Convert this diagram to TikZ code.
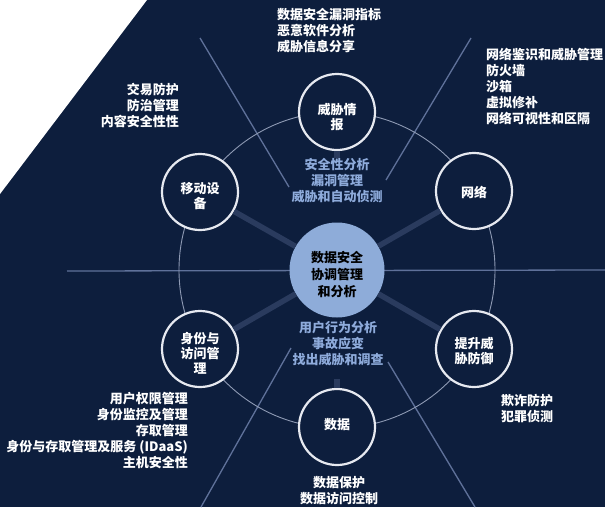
\documentclass[tikz,border=0pt]{standalone}
\usepackage{fontspec}
\setmainfont{Noto Sans CJK SC}
\definecolor{bg}{HTML}{0D1E3D}
\definecolor{ringc}{HTML}{E6E9F0}
\definecolor{orbit}{HTML}{8E9AB4}
\definecolor{ray}{HTML}{5F719A}
\definecolor{spokec}{HTML}{2A3B5E}
\definecolor{hub}{HTML}{8EACD9}
\definecolor{soft}{HTML}{8EABDB}
\tikzset{
  txt/.style={font=\bfseries\fontsize{13}{16}\selectfont, text=white, inner sep=0pt},
  softtxt/.style={txt, text=soft, align=center},
  node circ/.style={circle, draw=ringc, line width=2.2pt, fill=bg, minimum size=76pt, inner sep=0pt},
  circlabel/.style={inner sep=0pt, align=center, text=white, font=\bfseries\fontsize{13}{15}\selectfont},
  hubcirc/.style={circle, fill=hub, minimum size=95pt, inner sep=0pt},
  hublabel/.style={inner sep=0pt, align=center, text=black, font=\bfseries\fontsize{13}{17}\selectfont},
  orbitline/.style={draw=orbit, line width=0.9pt},
  rayline/.style={draw=ray, line width=1.3pt},
  spoke/.style={draw=spokec, line width=5.5pt},
}
\begin{document}
\begin{tikzpicture}[x=1pt,y=-1pt]
\useasboundingbox (0,0) rectangle (605,507);
\fill[bg] (0,0) rectangle (605,507);
\fill[white] (0,0) -- (147,0) -- (0,194) -- cycle;

% long rays
\coordinate (h1) at (67,271);
\coordinate (h2) at (605,270);
\draw[rayline] (h1) -- (h2);
\coordinate (ul1) at (200,38);
\coordinate (ul2) at (289,187);
\draw[rayline] (ul1) -- (ul2);
\coordinate (ur1) at (471,38);
\coordinate (ur2) at (386,180);
\draw[rayline] (ur1) -- (ur2);
\coordinate (ll1) at (291,348);
\coordinate (ll2) at (201,507);
\draw[rayline] (ll1) -- (ll2);
\coordinate (lr1) at (388,362);
\coordinate (lr2) at (475,507);
\draw[rayline] (lr1) -- (lr2);

% orbit
\coordinate (oc) at (337,270);
\draw[orbitline] (oc) circle[radius=158pt];

% circles
\node[hubcirc] (c) at (337,270) {};
\node[node circ] (thr) at (337,112) {};
\node[node circ] (mob) at (200,192) {};
\node[node circ] (net) at (474,191) {};
\node[node circ] (idm) at (200,349) {};
\node[node circ] (adv) at (474,349) {};
\node[node circ] (dat) at (337,427) {};

% spokes
\draw[spoke] (c) -- (mob);
\draw[spoke] (c) -- (net);
\draw[spoke] (c) -- (idm);
\draw[spoke] (c) -- (adv);
\coordinate (ts) at (337,158);
\draw[spoke] (thr.south) -- (ts);
\coordinate (bs) at (337,379);
\draw[spoke] (dat.north) -- (bs);

% circle labels
\node[hublabel] (cl) at (337,275) {数据安全\\协调管理\\和分析};
\node[circlabel] (thrl) at (337,117) {威胁情\\报};
\node[circlabel] (mobl) at (200,196) {移动设\\备};
\node[circlabel] (netl) at (474,192) {网络};
\node[circlabel] (idml) at (200,353) {身份与\\访问管\\理};
\node[circlabel] (advl) at (474,351) {提升威\\胁防御};
\node[circlabel] (datl) at (337,425) {数据};

% texts
\node[txt, align=left, anchor=west] (t1) at (277,31) {数据安全漏洞指标\\恶意软件分析\\威胁信息分享};
\node[txt, align=right, anchor=east] (t2) at (179,106) {交易防护\\防治管理\\内容安全性性};
\node[txt, align=left, anchor=west] (t3) at (486,86) {网络鉴识和威胁管理\\防火墙\\沙箱\\虚拟修补\\网络可视性和区隔};
\node[txt, align=right, anchor=east] (t4) at (188,431) {用户权限管理\\身份监控及管理\\存取管理\\身份与存取管理及服务 (IDaaS)\\主机安全性};
\node[txt, align=left, anchor=west] (t5) at (501,408) {欺诈防护\\犯罪侦测};
\node[txt, align=center] (t6) at (339,491) {数据保护\\数据访问控制};
\node[softtxt] (t7) at (337,181) {安全性分析\\漏洞管理\\威胁和自动侦测};
\node[softtxt] (t8) at (338,344) {用户行为分析\\事故应变\\找出威胁和调查};
\end{tikzpicture}
\end{document}
